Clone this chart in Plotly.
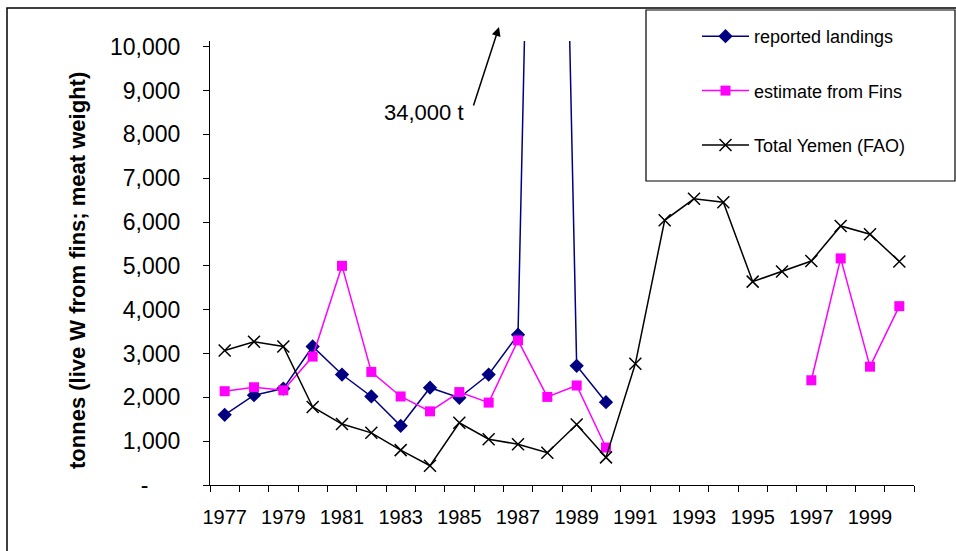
import plotly.graph_objects as go

years = list(range(1977, 2001))
reported_landings = [1600, 2050, 2200, 3160, 2520, 2020, 1350, 2220, 1990, 2520,
                     3430, 34000, 2720, 1890,
                     None, None, None, None, None, None, None, None, None, None]
estimate_fins = [2140, 2230, 2160, 2930, 5000, 2580, 2020, 1680, 2120, 1880,
                 3300, 2010, 2270, 855,
                 None, None, None, None, None, None, 2390, 5170, 2700, 4080]
total_yemen = [3070, 3270, 3160, 1780, 1390, 1190, 795, 440, 1420, 1045,
               930, 735, 1380, 630, 2765, 6040, 6530, 6450, 4640, 4870,
               5110, 5910, 5720, 5100]

ytick_vals = [0, 1000, 2000, 3000, 4000, 5000, 6000, 7000, 8000, 9000, 10000]
ytick_text = ["-\u00a0\u00a0\u00a0\u00a0\u00a0"] + [f"{v:,}" for v in ytick_vals[1:]]
xtick_vals = list(range(1977, 2000, 2))
xtick_text = [str(y) for y in xtick_vals]

W, H = 956, 551
L, R, T, B = 210, 42, 41, 66
PW, PH = W - L - R, H - T - B


def px(xp):
    return (xp - L) / PW


def py(yp):
    return (H - B - yp) / PH


FONT = "Liberation Sans, Arial, sans-serif"

fig = go.Figure()
fig.add_trace(go.Scatter(
    x=years, y=reported_landings, name="reported landings", mode="lines+markers",
    line=dict(color="#000080", width=1.5),
    marker=dict(symbol="diamond", size=11, color="#000080"),
    legendgroup="a"))
fig.add_trace(go.Scatter(
    x=years, y=estimate_fins, name="estimate from Fins", mode="lines+markers",
    line=dict(color="#FF00FF", width=1.5),
    marker=dict(symbol="square", size=10, color="#FF00FF"),
    legendgroup="b"))
fig.add_trace(go.Scatter(
    x=years, y=total_yemen, name="Total Yemen (FAO)", mode="lines+markers",
    line=dict(color="#000000", width=1.5),
    marker=dict(symbol="x-thin", size=12, color="#000000",
                line=dict(width=1.5, color="#000000")),
    legendgroup="c"))

fig.update_layout(
    width=W, height=H,
    margin=dict(l=L, r=R, t=T, b=B, autoexpand=False),
    paper_bgcolor="white", plot_bgcolor="white",
    font=dict(family=FONT, color="black"),
    showlegend=True,
    legend=dict(x=px(697), y=py(18), xanchor="left", yanchor="top",
                font=dict(size=18, family=FONT), traceorder="grouped",
                itemwidth=47,
                tracegroupgap=28, bgcolor="rgba(0,0,0,0)", borderwidth=0),
    xaxis=dict(range=[1976.5, 2000.5], tickmode="array", tickvals=xtick_vals,
               ticktext=xtick_text, ticks="outside", ticklen=0,
               ticklabelstandoff=14,
               tickfont=dict(size=20, family=FONT),
               showline=True, linecolor="black", linewidth=1,
               showgrid=False, zeroline=False,
               minor=dict(tickmode="array",
                          tickvals=[y - 0.5 for y in years] + [years[-1] + 0.5],
                          ticks="outside", ticklen=6, tickcolor="black",
                          showgrid=False)),
    yaxis=dict(range=[0, 10130], tickmode="array", tickvals=ytick_vals,
               ticktext=ytick_text, ticks="outside", ticklen=6,
               tickcolor="black", ticklabelstandoff=18,
               tickfont=dict(size=23, family=FONT),
               showline=True, linecolor="black", linewidth=1,
               showgrid=False, zeroline=False),
    shapes=[
        dict(type="rect", xref="paper", yref="paper",
             x0=px(7), x1=px(1000), y0=py(600), y1=py(8),
             line=dict(color="black", width=1.5), fillcolor="rgba(0,0,0,0)",
             layer="above"),
        dict(type="rect", xref="paper", yref="paper",
             x0=px(646), x1=px(955), y0=py(181), y1=py(10),
             line=dict(color="black", width=1.2), fillcolor="rgba(0,0,0,0)",
             layer="above"),
    ],
    annotations=[
        dict(text="<b>tonnes (live W from fins; meat weight)</b>", textangle=-90,
             xref="paper", yref="paper", x=px(77), y=py(271),
             xanchor="center", yanchor="middle", showarrow=False,
             font=dict(size=22, family=FONT, color="black")),
        dict(text="34,000 t", xref="paper", yref="paper", x=px(424), y=py(112),
             xanchor="center", yanchor="middle", showarrow=False,
             font=dict(size=22, family=FONT, color="black")),
        dict(text="", xref="paper", yref="paper", x=px(499), y=py(27),
             ax=-26, ay=80, showarrow=True, arrowhead=2, arrowsize=1.2,
             arrowwidth=1.5, arrowcolor="black"),
    ],
)

fig.write_html("out.html")
